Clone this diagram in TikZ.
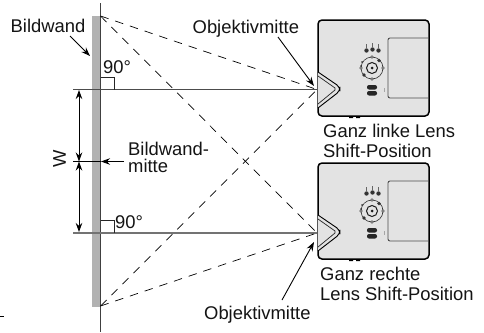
\documentclass[tikz,border=0pt]{standalone}
\usepackage{fontspec}
\setmainfont{Liberation Sans}
\usetikzlibrary{arrows.meta}
\definecolor{screen}{gray}{0.70}
\definecolor{body}{gray}{0.89}
\tikzset{
  x=1pt,y=-1pt,
  lbl/.style={inner sep=0pt,anchor=base west,font=\fontsize{18.4}{20}\selectfont,text=black!92},
  ptr/.style={draw=black,line width=0.9pt,-{Stealth[length=9pt,width=6.5pt]}},
  dim/.style={draw=black,line width=0.9pt,{Stealth[length=9pt,width=6.5pt]}-{Stealth[length=9pt,width=6.5pt]}},
  axistop/.style={draw=black!70,line width=1pt},
  axisbot/.style={draw=black!55,line width=1.5pt},
  axisv/.style={draw=black!75,line width=0.9pt},
  rayline/.style={draw=black,line width=0.7pt,dash pattern=on 8.5pt off 7pt},
  thinl/.style={draw=black!85,line width=0.7pt},
  case/.style={draw=black,line width=1.5pt,fill=body,rounded corners=4pt},
  panel/.style={draw=black!70,line width=0.9pt,rounded corners=2pt},
  lensbody/.style={draw=black,line width=0.9pt,fill=body,line join=round},
}
\newcommand{\projector}[1]{%
  \begin{scope}[shift={(0,#1)}]
    \fill[black] (349,116) rectangle (353,118) (356,116) rectangle (360,118);
    \draw[case] (318,20) rectangle (429,116);
    \draw[panel] (428,38) -- (388,38) -- (388,98) -- (428,98);
    \draw[lensbody,rounded corners=4pt] (318,72) -- (340,87) -- (340,91) -- (318,108);
    \draw[thinl] (318,76) -- (335,88) -- (335,90) -- (318,104);
    \fill[black!80] (366.5,50.5) circle (2.2pt) (372.5,49.5) circle (2.2pt) (378.5,50.5) circle (2.2pt);
    \draw[black!60,line width=0.3pt] (366.5,44) -- (366.5,48) (372.5,43) -- (372.5,47) (378.5,44) -- (378.5,48);
    \draw[black!80,line width=0.6pt] (372,68) circle (11pt);
    \draw[black!90,line width=1pt] (372,68) circle (5.5pt);
    \fill[black!90] (372,68) circle (1.5pt);
    \foreach \a in {0,90,180,270} \filldraw[fill=white,draw=black,line width=0.4pt] (372,68) ++(\a:11pt) circle (1.3pt);
    \fill[black!80] (379,60.5) circle (1.8pt) (364,75) circle (1.8pt) (362,62) circle (1pt) (361,66) circle (1pt);
    \fill[black!85,rounded corners=2pt] (367,85) rectangle (377,89.5) (367,91) rectangle (377,95.5);
    \draw[black!35,line width=0.4pt] (384,88) -- (384,92);
  \end{scope}}
\begin{document}
\begin{tikzpicture}
\useasboundingbox (0,0) rectangle (484,332);
\fill[white] (0,0) rectangle (484,332);
\fill[screen] (92,16) rectangle (100.5,307);
% projectors
\projector{0}
\projector{143}
% axes
\coordinate (tl) at (73,89.5);
\coordinate (bl) at (73,233);
\coordinate (lensT) at (317,89.5);
\coordinate (lensB) at (317,233);
\coordinate (scrT) at (100.5,16);
\coordinate (scrB) at (100.5,306);
\coordinate (vt) at (100.5,3);
\coordinate (vb) at (100.5,332);
\draw[axisv] (vt) -- (vb);
\draw[axistop] (tl) -- (lensT);
\draw[axisbot] (bl) -- (lensB);
% rays
\draw[rayline] (scrT) -- (lensT);
\draw[rayline] (scrT) -- (lensB);
\draw[rayline] (scrB) -- (lensT);
\draw[rayline] (scrB) -- (lensB);
% right-angle marks
\draw[thinl] (100.5,77) -- (114,77) -- (114,89.5);
\draw[thinl] (100.5,220) -- (114,220) -- (114,233);
% W dimension
\coordinate (wT) at (79,90);
\coordinate (wM) at (79,161.5);
\coordinate (wB) at (79,232);
\coordinate (cL) at (73,161.5);
\coordinate (cR) at (101,161.5);
\coordinate (cS) at (124,161.5);
\draw[dim] (wT) -- (wM);
\draw[dim] (wM) -- (wB);
\draw[draw=black,line width=0.9pt] (cL) -- (cR);
\draw[ptr] (cS) -- (cR);
% labels
\node[lbl] (bw) at (10.5,32) {Bildwand};
\node[lbl] (om1) at (192.5,33) {Objektivmitte};
\node[lbl] (om2) at (204,319) {Objektivmitte};
\node[lbl] (a1) at (103,73) {90°};
\node[lbl] (a2) at (115,228) {90°};
\node[lbl] (bm1) at (128,155) {Bildwand-};
\node[lbl] (bm2) at (128,172) {mitte};
\node[lbl] (gl1) at (323,137) {Ganz linke Lens};
\node[lbl] (gl2) at (323,157) {Shift-Position};
\node[lbl] (gr1) at (320,280) {Ganz rechte};
\node[lbl] (gr2) at (320,300) {Lens Shift-Position};
\node[lbl,anchor=center,rotate=90] (wl) at (59.5,159) {W};
\coordinate (bwTip) at (90,56);
\coordinate (bwTail) at (70,36);
\coordinate (om1Tail) at (278,37);
\coordinate (om1Tip) at (314,86);
\coordinate (om2Tail) at (282,300);
\coordinate (om2Tip) at (314,242);
\draw[ptr] (bwTail) -- (bwTip);
\draw[ptr] (om1Tail) -- (om1Tip);
\draw[ptr] (om2Tail) -- (om2Tip);
\coordinate (d1) at (0,316);
\coordinate (d2) at (4,316);
\draw[black,line width=0.9pt] (d1) -- (d2);
\end{tikzpicture}
\end{document}
